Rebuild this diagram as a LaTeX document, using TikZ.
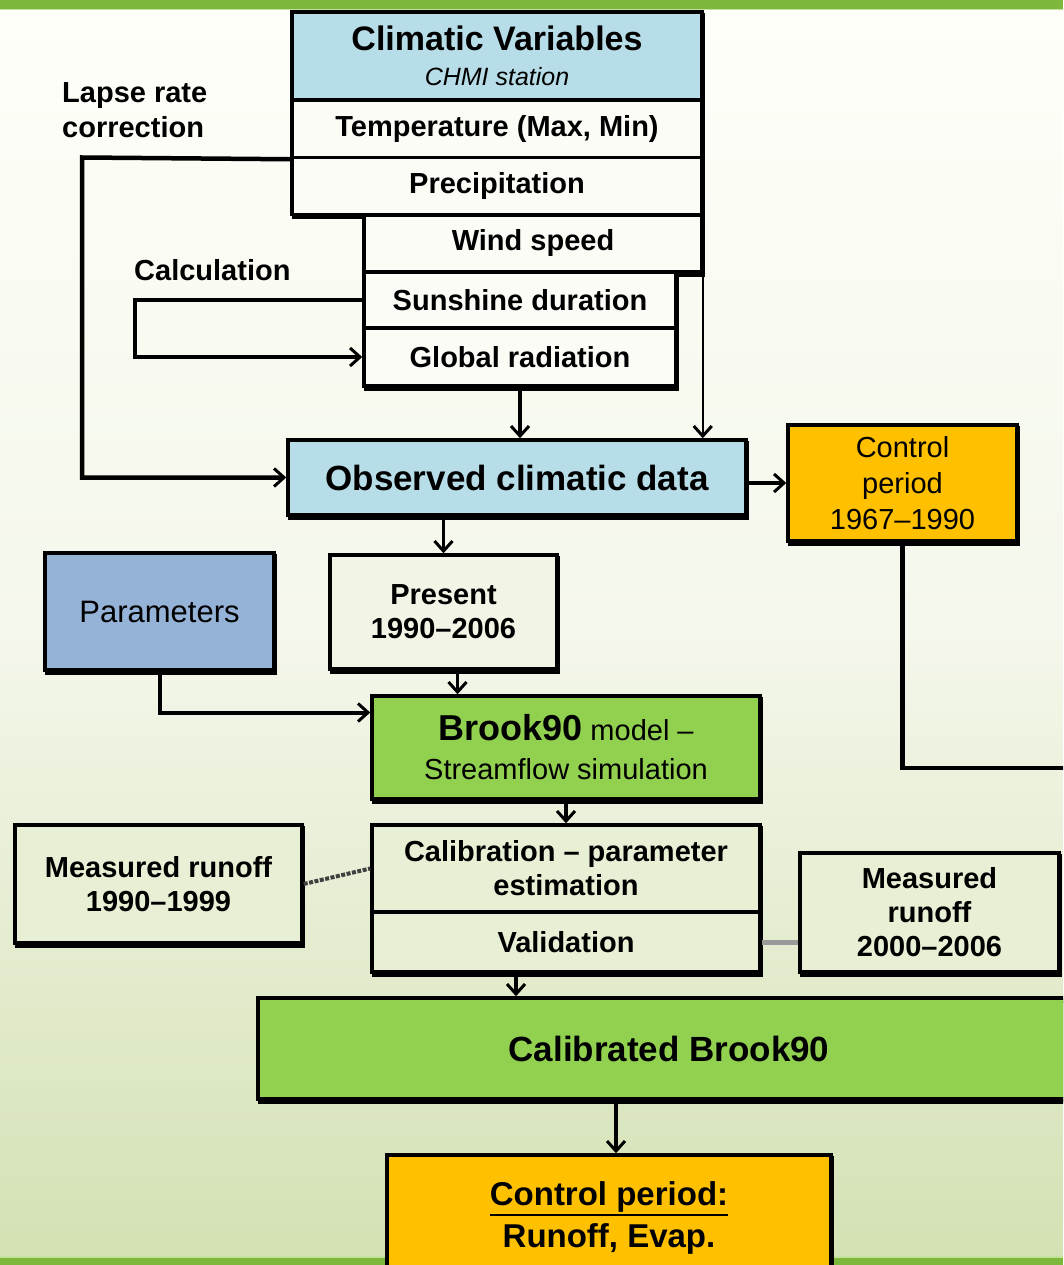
\documentclass[tikz,border=0pt]{standalone}
\usepackage{fontspec}
\setmainfont{Liberation Sans}
\usetikzlibrary{arrows.meta}
\definecolor{bandgreen}{RGB}{125,184,61}
\definecolor{bandlight}{RGB}{196,226,158}
\definecolor{bgtop}{RGB}{254,255,249}
\definecolor{bgmid}{RGB}{244,247,235}
\definecolor{bgbot}{RGB}{211,225,179}
\definecolor{hdrblue}{RGB}{183,221,232}
\definecolor{parblue}{RGB}{149,179,215}
\definecolor{modgreen}{RGB}{146,208,80}
\definecolor{ctrlorange}{RGB}{255,192,0}
\definecolor{rowwhite}{RGB}{251,252,246}
\definecolor{presfill}{RGB}{242,245,230}
\definecolor{lowfill}{RGB}{231,239,212}
\newcommand{\pxsize}[2]{\fontsize{#1}{#2}\selectfont}
\newcommand{\thickul}[1]{\leavevmode\vtop{\hbox{#1}\kern2pt\hrule height 2.5pt}}
\begin{document}
\begin{tikzpicture}[x=1pt,y=-1pt,
  box/.style={draw=black, line width=3.5pt, inner sep=2pt, align=center, text=black,
     preaction={draw=black, fill=black, line width=3.5pt, transform canvas={xshift=1.5pt,yshift=-3pt}}},
  bt/.style={font=\pxsize{29}{34}\bfseries},
  nt/.style={font=\pxsize{29}{36}},
  ln/.style={line width=4pt},
  arr/.style={line width=3.5pt, -{Straight Barb[length=10pt,width=18pt,line width=3pt]}},
  lbl/.style={font=\pxsize{29}{35}\bfseries, align=left, inner sep=0pt},
]
\useasboundingbox (0,0) rectangle (1063,1265);
\clip (0,0) rectangle (1063,1265);
\shade[top color=bgtop, bottom color=bgbot, middle color=bgmid] (0,0) rectangle (1063,1265);
\fill[bandgreen] (0,0) rectangle (1063,9);
\fill[bandlight] (0,9) rectangle (1063,10.5);
\fill[bandlight] (0,1255.5) rectangle (1063,1258);
\fill[bandgreen] (0,1258) rectangle (1063,1265);

% climatic variables stack
\node[box, fill=hdrblue, font=\pxsize{25}{35}, minimum width=410, minimum height=88] (cv) at (497,56)
  {\fontsize{34}{35}\selectfont\bfseries Climatic Variables\\\fontsize{25}{35}\selectfont\mdseries\itshape CHMI station};
\node[box, bt, fill=rowwhite, minimum width=410, minimum height=57] (temp) at (497,129) {Temperature (Max, Min)};
\node[box, bt, fill=rowwhite, minimum width=410, minimum height=57] (prec) at (497,186) {Precipitation};
\node[box, bt, fill=rowwhite, minimum width=338, minimum height=57] (wind) at (533,243.5) {Wind speed};
\node[box, bt, fill=rowwhite, minimum width=312, minimum height=56] (sun) at (520,300) {Sunshine duration};
\node[box, bt, fill=rowwhite, minimum width=312, minimum height=58] (glob) at (520,357) {Global radiation};

\node[lbl, anchor=north west] (lapse) at (62,82) {Lapse rate\\correction};
\node[lbl, anchor=north west] (calc) at (134,259) {Calculation};

% observed
\node[box, fill=hdrblue, font=\pxsize{35}{40}\bfseries, minimum width=458, minimum height=75] (obs) at (517,477.5) {Observed climatic data};
\node[box, nt, fill=ctrlorange, minimum width=229, minimum height=116] (ctrl1) at (902.5,483) {Control\\period\\1967--1990};

\node[box, font=\pxsize{31}{36}, fill=parblue, minimum width=229, minimum height=117] (param) at (159.5,611.5) {Parameters};
\node[box, bt, fill=presfill, minimum width=227, minimum height=114] (pres) at (443.5,612) {Present\\1990--2006};

\node[box, font=\pxsize{29}{39}, fill=modgreen, minimum width=388, minimum height=103] (brook) at (566,747.5)
  {{\fontsize{36}{39}\selectfont\bfseries Brook90}\ model --\\Streamflow simulation};

\node[box, bt, fill=lowfill, minimum width=388, minimum height=87] (calib) at (566,868.5) {Calibration -- parameter\\estimation};
\node[box, bt, fill=lowfill, minimum width=388, minimum height=60] (valid) at (566,942) {Validation};
\node[box, bt, fill=lowfill, minimum width=287, minimum height=118] (mr1) at (158.5,884) {Measured runoff\\1990--1999};
\node[box, bt, fill=lowfill, minimum width=259, minimum height=119] (mr2) at (929.5,912.5) {Measured\\runoff\\2000--2006};

\node[box, fill=modgreen, font=\pxsize{35}{40}\bfseries, minimum width=822, minimum height=101] (cal90) at (669,1048.5) {Calibrated Brook90};
\node[box, fill=ctrlorange, font=\pxsize{33}{42}\bfseries, minimum width=444, minimum height=125] (ctrl2) at (609,1217.5)
  {\thickul{Control period:}\\Runoff, Evap.};

% connectors
\coordinate (lapseL) at (82,157.5);
\coordinate (calcL) at (135,300);
\coordinate (rightEnd) at (1075,768);

\draw[arr, line width=4.5pt] (temp.south west) -- (lapseL) |- (obs.west);
\draw[arr, line width=4.5pt] (sun.west) -- (calcL) |- (glob.west);
\draw[arr] (glob.south) -- (glob.south |- obs.north);
\draw[arr, line width=2.5pt] ([xshift=-1pt]wind.south east) -- ([xshift=-1pt]wind.south east |- obs.north);
\draw[arr, line width=4pt] (obs.east |- ctrl1.west) -- (ctrl1.west);
\draw[arr] (pres.north |- obs.south) -- (pres.north);
\draw[arr] ([xshift=14pt]pres.south) -- ([xshift=14pt]pres.south |- brook.north);
\draw[arr, line width=4pt] (param.south) |- ([yshift=35pt]brook.west);
\draw[arr] (brook.south) -- (calib.north);
\draw[line width=4pt, black!75, dash pattern=on 4pt off 1.5pt] (mr1.east) -- (calib.west);
\draw[line width=5pt, black!40] (valid.east) -- (valid.east -| mr2.west);
\draw[arr] ([xshift=-50pt]valid.south) -- ([xshift=-50pt]valid.south |- cal90.north);
\draw[arr] ([xshift=7pt]ctrl2.north |- cal90.south) -- ([xshift=7pt]ctrl2.north);
\draw[ln, line width=4.5pt] (ctrl1.south) |- (rightEnd);
\end{tikzpicture}
\end{document}
